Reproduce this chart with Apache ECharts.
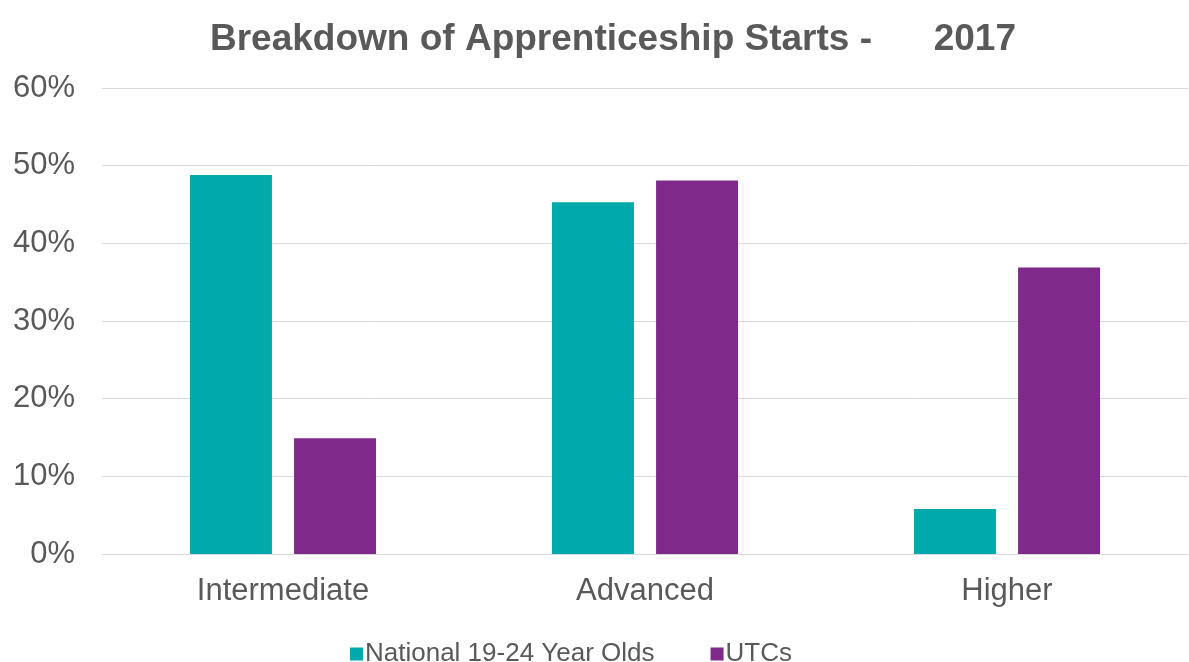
<!DOCTYPE html>
<html><head><meta charset="utf-8">
<script src="https://cdn.jsdelivr.net/npm/echarts@6/dist/echarts.min.js"></script>
<style>html,body{margin:0;padding:0;background:#fff}#c{width:1189px;height:662px}</style>
</head><body><div id="c"></div>
<script>
const categories = ['Intermediate', 'Advanced', 'Higher'];
const national = [48.8, 45.3, 5.8];
const utcs = [14.9, 48.1, 36.9];
const seriesNames = ['National 19-24 Year Olds', 'UTCs'];
const yTicks = [0, 10, 20, 30, 40, 50, 60];

const chart = echarts.init(document.getElementById('c'));
const font = 'Liberation Sans, Arial, sans-serif';
chart.setOption({
  animation: false,
  title: {
    text: 'Breakdown of Apprenticeship Starts -      2017',
    left: 205, top: 16,
    textStyle: {fontFamily: font, fontSize: 37, fontWeight: 'bold', color: '#595959'}
  },
  legend: {
    top: 636, left: 345, itemWidth: 13, itemHeight: 13, itemGap: 56,
    icon: 'rect',
    textStyle: {fontFamily: font, fontSize: 26, color: '#595959', padding: [0,0,0,-3]},
    data: seriesNames
  },
  grid: {left: 102, right: 1, top: 88, bottom: 108},
  xAxis: {
    type: 'category', data: categories,
    axisTick: {show: false},
    axisLine: {lineStyle: {color: '#d9d9d9'}},
    axisLabel: {fontFamily: font, fontSize: 31, color: '#595959', margin: 22}
  },
  yAxis: {
    type: 'value', min: yTicks[0], max: yTicks[yTicks.length - 1], interval: 10,
    axisLabel: {fontFamily: font, fontSize: 31, color: '#595959', formatter: v => v + '%', margin: 27},
    splitLine: {lineStyle: {color: '#d9d9d9'}},
    axisLine: {show: false}, axisTick: {show: false}
  },
  series: [
    {name: seriesNames[0], type: 'bar', data: national, itemStyle: {color: '#00A9AB'}, barGap: '27%', barCategoryGap: '48.6%'},
    {name: seriesNames[1], type: 'bar', data: utcs, itemStyle: {color: '#7F2A8A'}}
  ]
});
</script></body></html>
